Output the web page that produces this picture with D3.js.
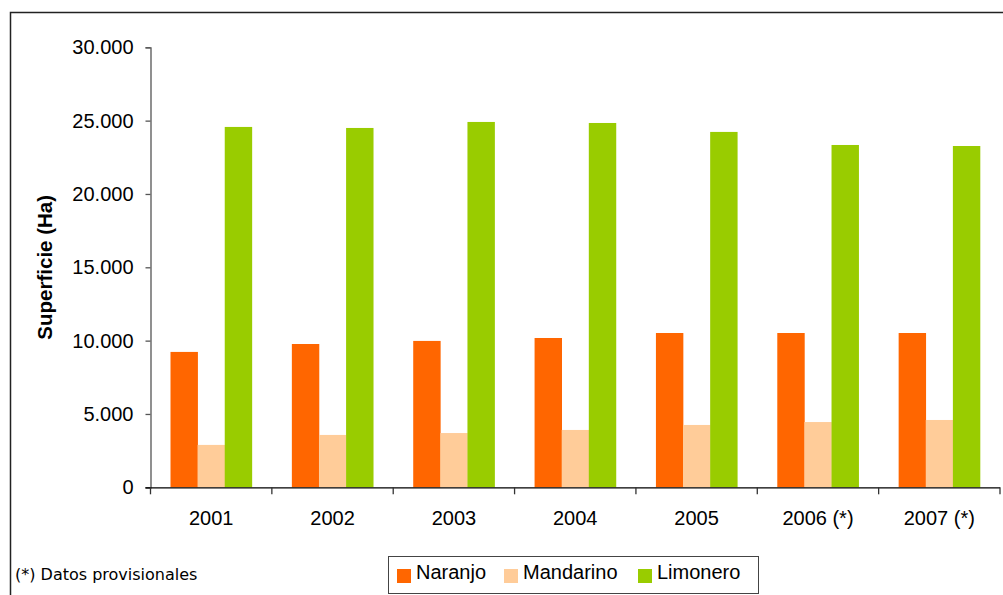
<!DOCTYPE html>
<html>
<head>
<meta charset="utf-8">
<script src="https://cdn.jsdelivr.net/npm/d3@7"></script>
<style>
  html, body { margin: 0; padding: 0; background: #fff; }
  svg { display: block; }
</style>
</head>
<body>
<svg id="chart" width="1003" height="595"></svg>
<script>
// Superficie cultivada de cítricos (Ha) por año
const years = ["2001", "2002", "2003", "2004", "2005", "2006 (*)", "2007 (*)"];
const naranjo   = [9230, 9770, 9980, 10180, 10520, 10520, 10520];
const mandarino = [2890, 3570, 3700, 3910, 4250, 4450, 4590];
const limonero  = [24570, 24500, 24910, 24840, 24230, 23340, 23270];
const seriesNames = ["Naranjo", "Mandarino", "Limonero"];
const seriesColors = ["#FF6600", "#FFCC99", "#99CC00"];
const yTicks = [0, 5000, 10000, 15000, 20000, 25000, 30000];

const seriesValues = [naranjo, mandarino, limonero];
const svg = d3.select("#chart");
const sans = "Liberation Sans, Arial, sans-serif";

// outer frame (only top and left edges fall inside the canvas)
svg.append("path")
  .attr("d", "M10.5,595 L10.5,12.5 L1003,12.5")
  .attr("fill", "none").attr("stroke", "#222").attr("stroke-width", 1.5);

const plot = { left: 150.5, right: 1000, top: 47.3, bottom: 487.3 };

const x0 = d3.scaleBand().domain(years).range([plot.left, plot.right]).padding(0);
const groupPad = 20;
const x1 = d3.scaleBand().domain(seriesNames)
  .range([groupPad, x0.bandwidth() - groupPad]).padding(0);
const y = d3.scaleLinear().domain([0, 30000]).range([plot.bottom, plot.top]);

const fmt = v => d3.format(",")(v).replace(/,/g, ".");

// bars
const groups = svg.append("g").selectAll("g")
  .data(years).join("g")
  .attr("transform", d => `translate(${x0(d)},0)`);

groups.selectAll("rect")
  .data((d, i) => seriesNames.map((s, k) => ({ s, k, v: seriesValues[k][i] })))
  .join("rect")
  .attr("x", d => x1(d.s))
  .attr("width", x1.bandwidth() + 0.3)
  .attr("y", d => y(d.v))
  .attr("height", d => y(0) - y(d.v))
  .attr("fill", d => seriesColors[d.k]);

// y axis
const yAxis = d3.axisLeft(y).tickValues(yTicks).tickSize(5).tickPadding(12)
  .tickFormat(v => v === 0 ? "0" : fmt(v));
const gy = svg.append("g").attr("transform", `translate(${plot.left},0)`).call(yAxis);
gy.select(".domain").attr("stroke", "#555").attr("stroke-width", 1.3);
gy.selectAll(".tick line").attr("stroke", "#555").attr("stroke-width", 1.3);
gy.selectAll(".tick text")
  .attr("font-family", sans)
  .attr("font-size", 20).attr("fill", "#000");

// x axis
const xAxis = d3.axisBottom(x0).tickSize(0).tickPadding(0);
const gx = svg.append("g").attr("transform", `translate(0,${plot.bottom})`).call(xAxis);
gx.select(".domain").attr("stroke", "#000").attr("stroke-width", 1.3)
  .attr("d", `M${plot.left - 5},0.5H${plot.right}`);
gx.selectAll(".tick text")
  .attr("font-family", sans)
  .attr("font-size", 20).attr("fill", "#000")
  .attr("dy", 0).attr("y", 38);
// category separator ticks
const sepX = years.map(d => x0(d)).concat([plot.right]);
gx.selectAll(".sep").data(sepX).join("line")
  .attr("class", "sep")
  .attr("x1", d => d).attr("x2", d => d)
  .attr("y1", 0).attr("y2", 7)
  .attr("stroke", "#333").attr("stroke-width", 1.3);

// y axis title
svg.append("text")
  .attr("transform", `translate(52,${(plot.top + plot.bottom) / 2}) rotate(-90)`)
  .attr("text-anchor", "middle")
  .attr("font-family", sans)
  .attr("font-size", 20.5).attr("font-weight", "bold")
  .text("Superficie (Ha)");

// footnote
svg.append("text")
  .attr("x", 15).attr("y", 580)
  .attr("font-family", "DejaVu Sans, Verdana, sans-serif")
  .attr("font-size", 16).attr("fill", "#000")
  .text("(*) Datos provisionales");

// legend
const legend = svg.append("g");
legend.append("rect")
  .attr("x", 388.5).attr("y", 556.5).attr("width", 370).attr("height", 37)
  .attr("fill", "#fff").attr("stroke", "#444").attr("stroke-width", 1);
const legX = [397, 504, 638];
const items = legend.selectAll(".item").data(seriesNames).join("g")
  .attr("class", "item")
  .attr("transform", (d, i) => `translate(${legX[i]},569)`);
items.append("rect").attr("width", 14).attr("height", 14)
  .attr("fill", (d, i) => seriesColors[i]);
items.append("text")
  .attr("x", 19).attr("y", 10)
  .attr("font-family", sans)
  .attr("font-size", 20).attr("fill", "#000")
  .text(d => d);
</script>
</body>
</html>
